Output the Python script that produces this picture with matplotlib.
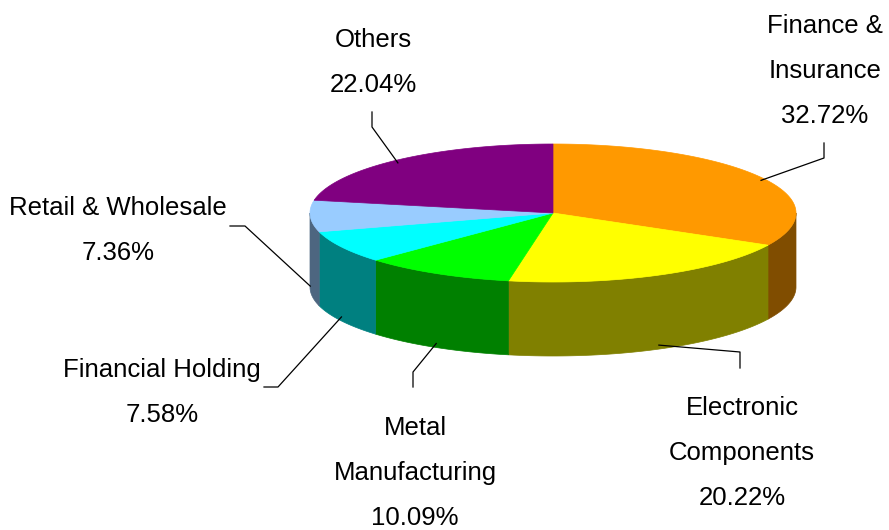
import numpy as np
import matplotlib.pyplot as plt
from matplotlib.patches import Polygon
from matplotlib.colors import to_rgb

plt.rcParams['font.family'] = ['Liberation Sans', 'DejaVu Sans']

# industry breakdown
sectors = ["Finance &\nInsurance", "Electronic\nComponents", "Metal\nManufacturing",
           "Financial Holding", "Retail & Wholesale", "Others"]
shares = [32.72, 20.22, 10.09, 7.58, 7.36, 22.04]
colors = ["#FF9900", "#FFFF00", "#00FF00", "#00FFFF", "#99CCFF", "#800080"]

# label text position (x centre, baseline of first line) and leader bend points, in pixels
label_pos = [(825, 33), (742, 415), (415, 435), (162, 377), (118, 215), (373, 47)]
bends = [[(824, 143), (824, 158)], [(740, 368), (740, 352)], [(413, 387), (413, 372)],
         [(264, 387), (278, 387)], [(230, 226), (245, 226)], [(372, 112), (372, 127)]]

# pie geometry (pixel space)
cx, cy = 553, 213
rx, ry = 243, 69
depth = 74
line_step = 45


def rim(theta, drop=0.0):
    # theta in degrees, clockwise from 12 o'clock
    t = np.radians(theta)
    return cx + rx * np.sin(t), cy - ry * np.cos(t) + drop


def shade(c):
    return tuple(v * 0.5 for v in to_rgb(c))


fig = plt.figure(figsize=(8.89, 5.30), dpi=100)
ax = fig.add_axes([0, 0, 1, 1])
ax.set_xlim(0, 889)
ax.set_ylim(530, 0)
ax.axis('off')

bounds = np.concatenate([[0], np.cumsum(shares)]) / sum(shares) * 360

# side walls, only the front half (90..270 deg) is visible
for i, c in enumerate(colors):
    a0, a1 = max(bounds[i], 90), min(bounds[i + 1], 270)
    if a1 <= a0:
        continue
    t = np.linspace(a0, a1, 120)
    xt, yt = rim(t)
    xb, yb = rim(t[::-1], depth)
    pts = np.column_stack([np.r_[xt, xb], np.r_[yt, yb]])
    ax.add_patch(Polygon(pts, closed=True, facecolor=shade(c), edgecolor=shade(c),
                         lw=0.5, zorder=1))

# top face
for i, c in enumerate(colors):
    t = np.linspace(bounds[i], bounds[i + 1], 200)
    xt, yt = rim(t)
    pts = np.column_stack([np.r_[cx, xt], np.r_[cy, yt]])
    ax.add_patch(Polygon(pts, closed=True, facecolor=c, edgecolor=c, lw=0.5, zorder=2))

# labels and leader lines
for i, name in enumerate(sectors):
    mid = (bounds[i] + bounds[i + 1]) / 2
    front = 90 < mid < 270
    ax_, ay_ = rim(mid, depth - 4 if front else 3)
    path = bends[i] + [(ax_, ay_)]
    ax.plot([p[0] for p in path], [p[1] for p in path], color='black', lw=0.9, zorder=3)

    lines = name.split("\n") + [f"{shares[i]:.2f}%"]
    x0, y0 = label_pos[i]
    for k, s in enumerate(lines):
        ax.text(x0, y0 + k * line_step, s, ha='center', va='baseline',
                fontsize=18.5, color='black')

fig.savefig("out.png", dpi=100)
